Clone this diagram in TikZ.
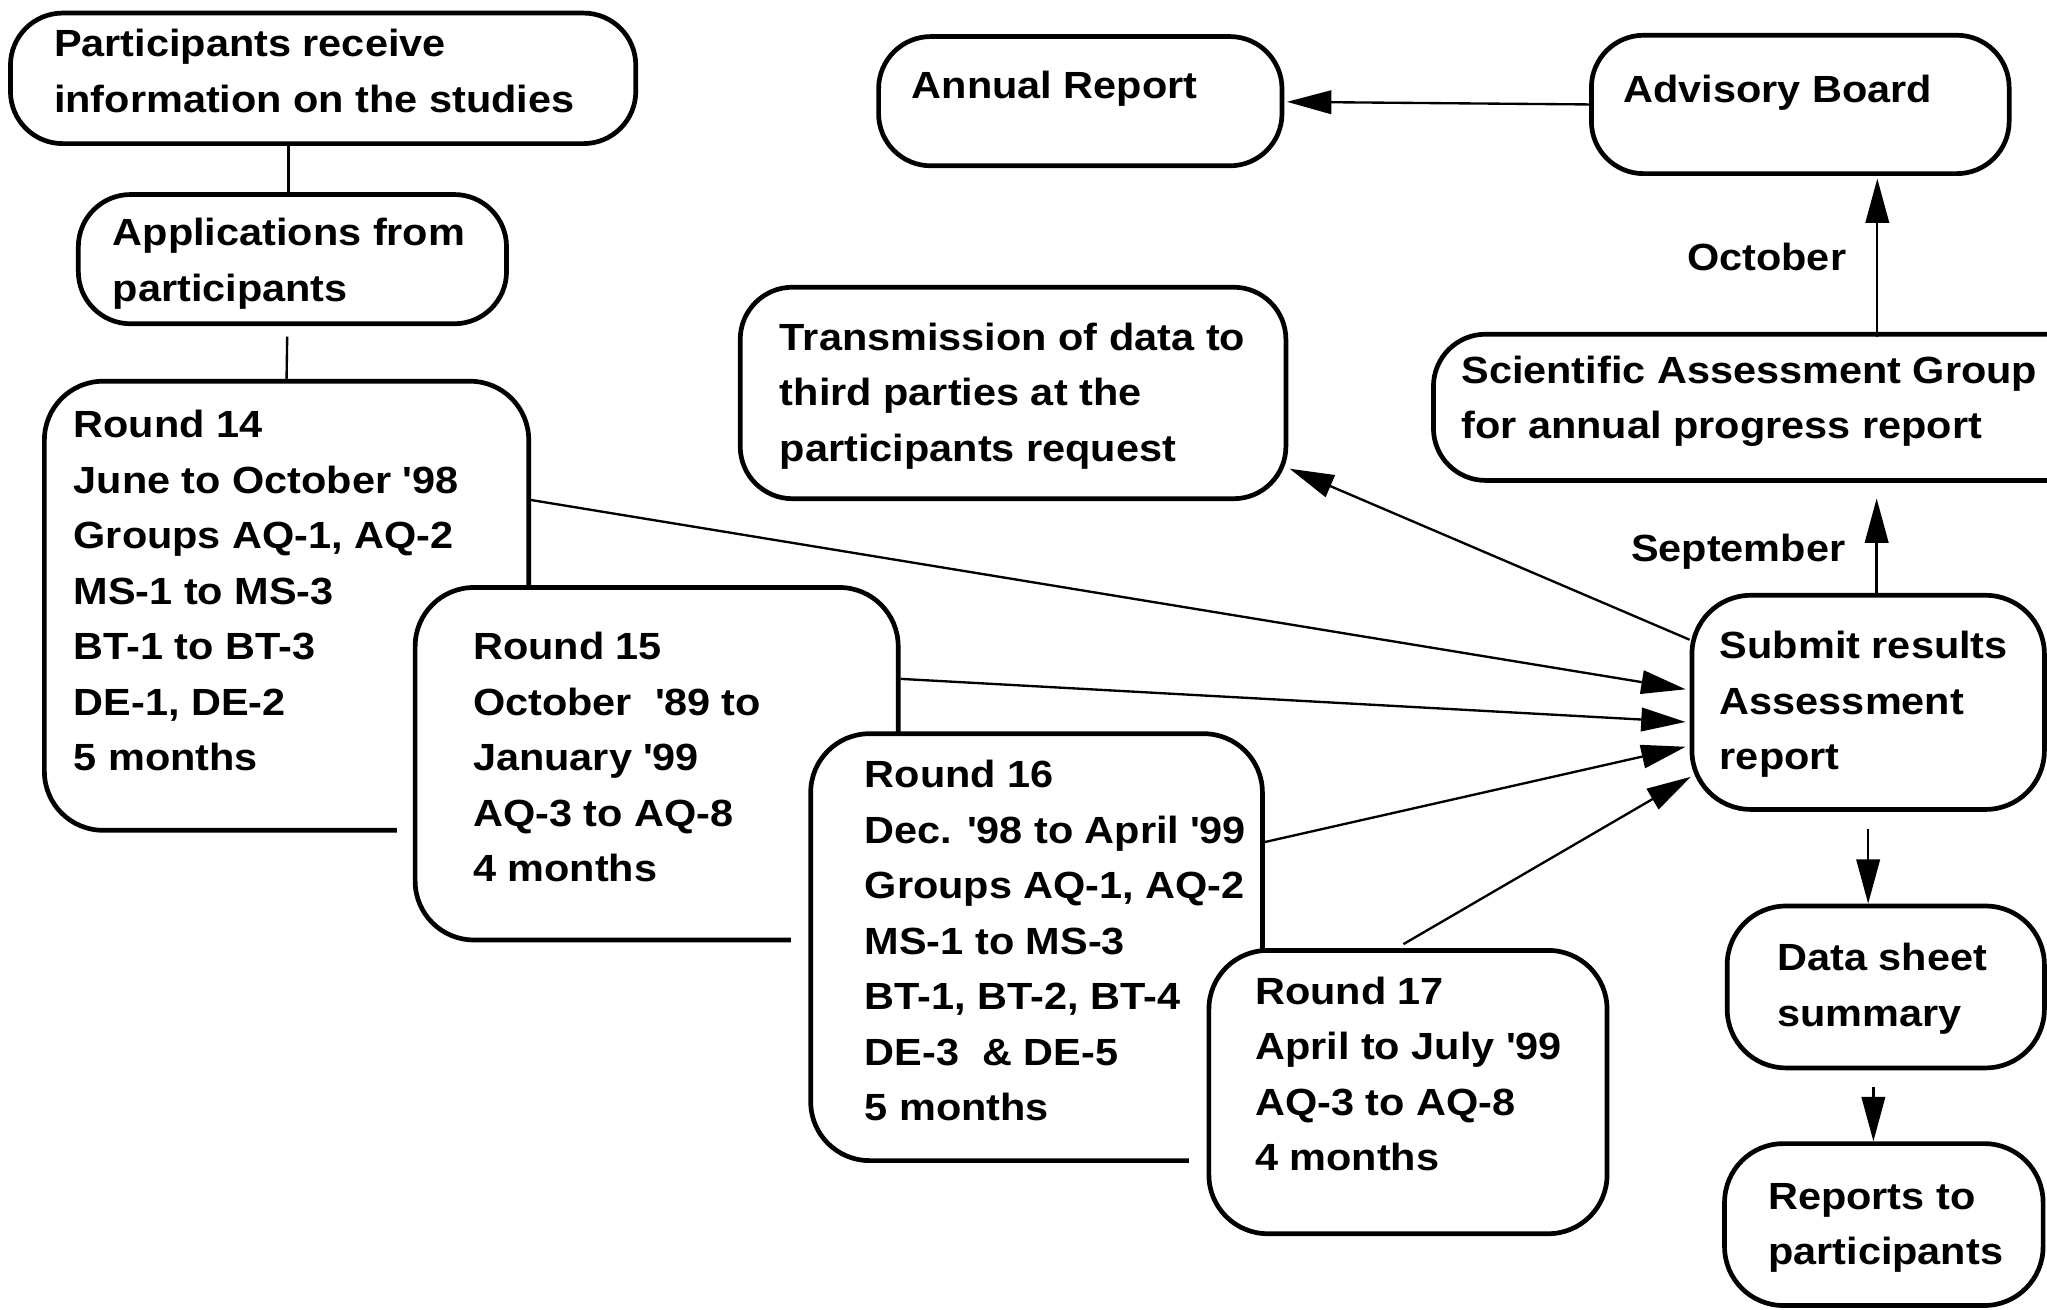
\documentclass[tikz,border=0pt]{standalone}
\usepackage{fontspec}
\setmainfont{Liberation Sans}[FakeStretch=1.095]
\usetikzlibrary{arrows.meta,fit}
\newcommand\myq{\textquotesingle}
\begin{document}
\begin{tikzpicture}[x=0.5pt,y=-0.5pt,
  box/.style={draw, line width=1.8pt, rounded corners=20pt, fill=white, inner sep=0pt},
  bigbox/.style={box, rounded corners=22.5pt},
  txt/.style={anchor=north west, inner sep=0pt, align=left,
    font=\fontsize{14.5pt}{21.25pt}\selectfont\bfseries},
  conn/.style={line width=0.9pt},
  arr/.style={conn, -{Triangle[length=17pt,width=9pt]}},
  patch/.style={fill=white, draw=none}]
\useasboundingbox (0,0) rectangle (1568,1003);
\clip (0,0) rectangle (1568,1003);

% boxes
\node[box, fit={(8,10) (487,110)}] (a) {};
\node[box, fit={(60,149) (388,248)}] (b) {};
\node[bigbox, fit={(34,292) (405,636)}] (r14) {};
\path[patch] (304,626) rectangle (317,646);
\node[bigbox, fit={(318,450) (688,720)}] (r15) {};
\path[patch] (606,710) rectangle (620,730);
\node[bigbox, fit={(621,562) (967,889)}] (r16) {};
\path[patch] (911,879) rectangle (925,899);
\node[bigbox, fit={(926,728) (1231,945)}] (r17) {};
\node[box, fit={(673,28) (982,127)}] (annual) {};
\node[box, fit={(1219,27) (1539,133)}] (advisory) {};
\node[box, fit={(567,220) (985,382)}] (trans) {};
\node[box, fit={(1098,256) (1640,368)}] (sag) {};
\node[bigbox, fit={(1296,456) (1566,620)}] (submit) {};
\node[bigbox, fit={(1323,694) (1566,818)}] (data) {};
\node[bigbox, fit={(1321,876) (1565,1000)}] (reports) {};

% texts
\node[txt] (at) at (41,22) {Participants receive\\information on the studies};
\node[txt] (bt) at (86,167) {Applications from\\participants};
\node[txt] (r14t) at (56,314) {Round 14\\June to October \myq98\\Groups AQ-1, AQ-2\\MS-1 to MS-3\\BT-1 to BT-3\\DE-1, DE-2\\5 months};
\node[txt] (r15t) at (362,484) {Round 15\\October\ \ \myq89 to\\January \myq99\\AQ-3 to AQ-8\\4 months};
\node[txt] (r16t) at (662,582) {Round 16\\Dec. \myq98 to April \myq99\\Groups AQ-1, AQ-2\\MS-1 to MS-3\\BT-1, BT-2, BT-4\\DE-3\ \ \& DE-5\\5 months};
\node[txt] (r17t) at (961,748) {Round 17\\April to July \myq99\\AQ-3 to AQ-8\\4 months};
\node[txt] (annualt) at (698,54) {Annual Report};
\node[txt] (advisoryt) at (1243,57) {Advisory Board};
\node[txt] (transt) at (597,247) {Transmission of data to\\third parties at the\\participants request};
\node[txt] (sagt) at (1119,272) {Scientific Assessment Group\\for annual progress report};
\node[txt] (submitt) at (1317,483) {Submit results\\Assessment\\report};
\node[txt] (datat) at (1361,722) {Data sheet\\summary};
\node[txt] (reportst) at (1354,906) {Reports to\\participants};
\node[txt] (oct) at (1292,186) {October};
\node[txt] (sep) at (1249,409) {September};

% connectors
\draw[conn] ([shift={(-26.5,0)}]a.south) -- ([shift={(-3,0)}]b.north);
\draw[conn] ([shift={(-4,8)}]b.south) -- (r14.north);
\draw[arr] ([shift={(0,-81)}]r14.east) -- ([shift={(-3,-10)}]submit.west);
\draw[arr] ([shift={(0,-65)}]r15.east) -- ([shift={(-3,15)}]submit.west);
\draw[arr] ([shift={(0,-80.5)}]r16.east) -- ([shift={(-3,34)}]submit.west);
\draw[arr] ([shift={(-3.5,-3)}]r17.north) -- ([shift={(1,57)}]submit.west);
\draw[arr] ([shift={(0,-48)}]submit.west) -- ([shift={(1,58)}]trans.east);
\draw[arr] ([shift={(6.5,0)}]submit.north) -- ([shift={(68.5,12)}]sag.south);
\draw[arr] ([shift={(69,4)}]sag.north) -- ([shift={(59,2)}]advisory.south);
\draw[arr] (advisory.west) -- ([shift={(2,0.5)}]annual.east);
\draw[arr] ([shift={(0,13)}]submit.south) -- ([shift={(-13.5,0)}]data.north);
\draw[arr] ([shift={(-9.5,13)}]data.south) -- ([shift={(-8,0)}]reports.north);
\end{tikzpicture}
\end{document}
